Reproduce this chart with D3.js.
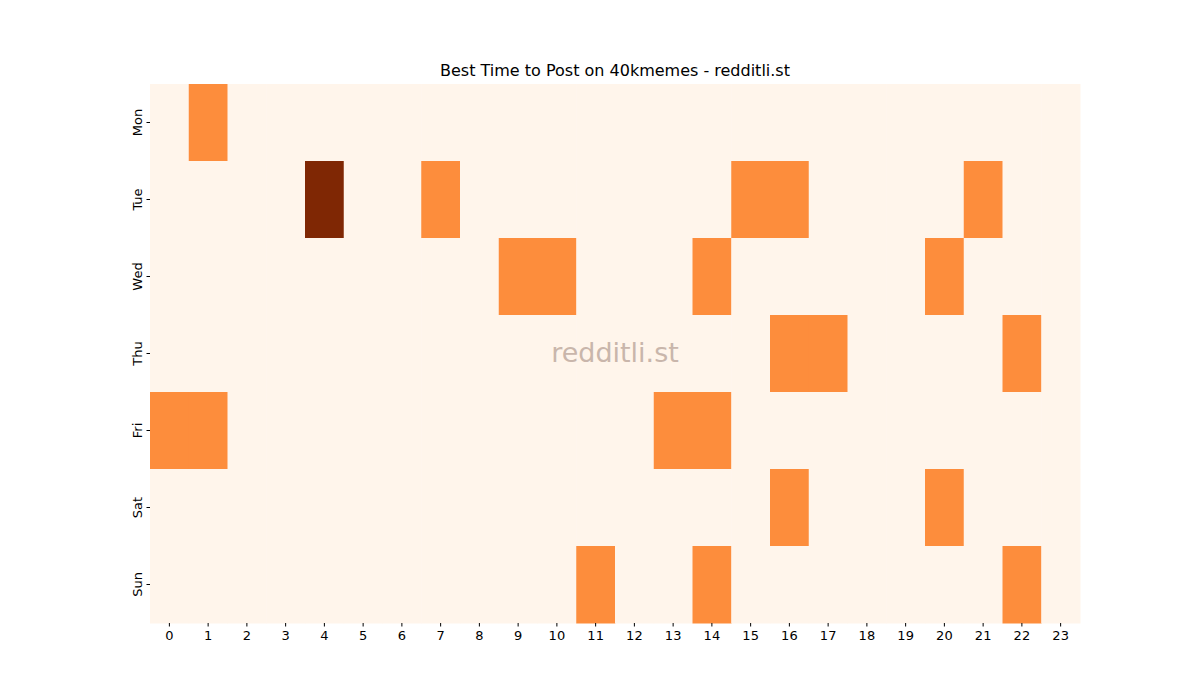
<!DOCTYPE html>
<html><head><meta charset="utf-8">
<script src="https://cdn.jsdelivr.net/npm/d3@7"></script>
<style>body{margin:0;background:#fff}</style>
</head><body>
<svg id="c" width="1200" height="700"></svg>
<script>
const days = ["Mon","Tue","Wed","Thu","Fri","Sat","Sun"];
const hours = d3.range(24).map(String);
const monVals = [0,1,0,0,0,0,0,0,0,0,0,0,0,0,0,0,0,0,0,0,0,0,0,0];
const tueVals = [0,0,0,0,2,0,0,1,0,0,0,0,0,0,0,1,1,0,0,0,0,1,0,0];
const wedVals = [0,0,0,0,0,0,0,0,0,1,1,0,0,0,1,0,0,0,0,0,1,0,0,0];
const thuVals = [0,0,0,0,0,0,0,0,0,0,0,0,0,0,0,0,1,1,0,0,0,0,1,0];
const friVals = [1,1,0,0,0,0,0,0,0,0,0,0,0,1,1,0,0,0,0,0,0,0,0,0];
const satVals = [0,0,0,0,0,0,0,0,0,0,0,0,0,0,0,0,1,0,0,0,1,0,0,0];
const sunVals = [0,0,0,0,0,0,0,0,0,0,0,1,0,0,1,0,0,0,0,0,0,0,1,0];
const rows = [monVals,tueVals,wedVals,thuVals,friVals,satVals,sunVals];

const svg = d3.select("#c");
const x = d3.scaleBand().domain(hours).range([150,1080]);
const y = d3.scaleBand().domain(days).range([84,623]);
const color = d3.scaleOrdinal().domain([0,1,2]).range(["#fff5eb","#fd8d3c","#7f2704"]);

const cells = [];
rows.forEach((r,i)=>r.forEach((v,j)=>cells.push({d:days[i],h:hours[j],v})));
svg.selectAll("rect.cell").data(cells).join("rect")
  .attr("x",d=>x(d.h)).attr("y",d=>y(d.d))
  .attr("width",x.bandwidth()+0.5).attr("height",y.bandwidth()+0.5)
  .attr("fill",d=>color(d.v));

const font = "DejaVu Sans, sans-serif";
const xa = svg.append("g").attr("transform","translate(0,623)")
  .call(d3.axisBottom(x).tickSize(3.5).tickPadding(4));
const ya = svg.append("g").attr("transform","translate(150,0)")
  .call(d3.axisLeft(y).tickSize(3.5).tickPadding(4));
[xa,ya].forEach(a=>{a.select(".domain").remove();a.selectAll("text").attr("font-size",13).attr("font-family",font).attr("fill","#000");a.selectAll("line").attr("stroke","#000");});
ya.selectAll("text").attr("transform",function(){return null;})
  .each(function(){
    const t=d3.select(this); const tr=d3.select(this.parentNode).attr("transform");
    t.attr("text-anchor","middle").attr("dy",null).attr("x",null)
     .attr("transform","translate(-13,0) rotate(-90)").attr("dominant-baseline","auto").attr("y",0).attr("dy","0.35em");
  });

svg.append("text").attr("x",615).attr("y",76).attr("text-anchor","middle")
  .attr("font-family",font).attr("font-size",16).text("Best Time to Post on 40kmemes - redditli.st");
svg.append("text").attr("x",615).attr("y",362).attr("text-anchor","middle")
  .attr("font-family",font).attr("font-size",27).attr("fill","#c9b6ab").text("redditli.st");
</script>
</body></html>
